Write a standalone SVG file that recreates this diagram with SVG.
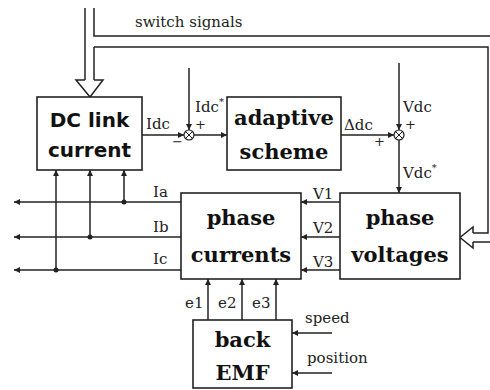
<svg xmlns="http://www.w3.org/2000/svg" width="490" height="390" viewBox="0 0 490 390">
<style>
.box{fill:#fff;stroke:#222;stroke-width:1.6}
.ln{fill:none;stroke:#222;stroke-width:1.5}
.hl{fill:#fff;stroke:#222;stroke-width:1.5}
.bs{font-family:"DejaVu Sans",sans-serif;font-weight:bold;font-size:20px;fill:#111;text-anchor:middle}
.bt{font-family:"DejaVu Serif",serif;font-weight:bold;font-size:21px;fill:#111;text-anchor:middle}
.lb{font-family:"DejaVu Serif",serif;font-size:15px;fill:#222}
.pm{font-family:"DejaVu Serif",serif;font-size:13px;fill:#222}
.dot{fill:#222}
</style>
<defs>
<marker id="a" viewBox="0 0 10 10" refX="10" refY="5" markerWidth="8" markerHeight="6" markerUnits="userSpaceOnUse" orient="auto">
<path d="M0,0 L10,5 L0,10z" fill="#222"/>
</marker>
</defs>
<rect width="490" height="390" fill="#fff"/>
<g id="connectors">
<path class="ln" d="M94,8 V36 H490"/>
<path class="ln" d="M85,8 V80"/>
<path class="ln" d="M94,47 V80"/>
<path class="hl" d="M85,80 H76 L90,97 L103,80 H94"/>
<path class="ln" d="M94,47 H488 V233 H473"/>
<path class="ln" d="M490,242 H473"/>
<path class="hl" d="M473,233 V227 L460,237.5 L473,248 V242"/>
<line class="ln" x1="142" y1="135" x2="184" y2="135" marker-end="url(#a)"/>
<line class="ln" x1="189" y1="68" x2="189" y2="130" marker-end="url(#a)"/>
<line class="ln" x1="194" y1="135" x2="227" y2="135" marker-end="url(#a)"/>
<line class="ln" x1="341" y1="135" x2="394" y2="135" marker-end="url(#a)"/>
<line class="ln" x1="399" y1="63" x2="399" y2="130" marker-end="url(#a)"/>
<line class="ln" x1="399" y1="140" x2="399" y2="193" marker-end="url(#a)"/>
<line class="ln" x1="340" y1="202" x2="301" y2="202" marker-end="url(#a)"/>
<line class="ln" x1="340" y1="237" x2="301" y2="237" marker-end="url(#a)"/>
<line class="ln" x1="340" y1="270" x2="301" y2="270" marker-end="url(#a)"/>
<line class="ln" x1="181" y1="202" x2="14" y2="202" marker-end="url(#a)"/>
<line class="ln" x1="181" y1="237" x2="14" y2="237" marker-end="url(#a)"/>
<line class="ln" x1="181" y1="270" x2="14" y2="270" marker-end="url(#a)"/>
<line class="ln" x1="56" y1="270" x2="56" y2="170" marker-end="url(#a)"/>
<line class="ln" x1="90" y1="237" x2="90" y2="170" marker-end="url(#a)"/>
<line class="ln" x1="124" y1="202" x2="124" y2="170" marker-end="url(#a)"/>
<circle class="dot" cx="56" cy="270" r="2.5"/>
<circle class="dot" cx="90" cy="237" r="2.5"/>
<circle class="dot" cx="124" cy="202" r="2.5"/>
<line class="ln" x1="208" y1="320" x2="208" y2="279" marker-end="url(#a)"/>
<line class="ln" x1="242" y1="320" x2="242" y2="279" marker-end="url(#a)"/>
<line class="ln" x1="276" y1="320" x2="276" y2="279" marker-end="url(#a)"/>
<line class="ln" x1="332" y1="333" x2="292" y2="333" marker-end="url(#a)"/>
<line class="ln" x1="332" y1="373" x2="292" y2="373" marker-end="url(#a)"/>
</g>
<g id="sum1">
<circle cx="189" cy="135" r="5" fill="#fff" stroke="#222" stroke-width="1.2"/>
<path d="M185.5,131.5 L192.5,138.5 M192.5,131.5 L185.5,138.5" stroke="#222" stroke-width="1"/>
</g>
<g id="sum2">
<circle cx="399" cy="135" r="5" fill="#fff" stroke="#222" stroke-width="1.2"/>
<path d="M395.5,131.5 L402.5,138.5 M402.5,131.5 L395.5,138.5" stroke="#222" stroke-width="1"/>
</g>
<g id="dclink">
<rect class="box" x="37" y="97" width="105" height="73"/>
<text class="bs" x="89.5" y="127">DC link</text>
<text class="bs" x="89.5" y="157">current</text>
</g>
<g id="adaptive">
<rect class="box" x="227" y="97" width="114" height="73"/>
<text class="bt" x="284" y="125">adaptive</text>
<text class="bt" x="284" y="159">scheme</text>
</g>
<g id="phasevoltages">
<rect class="box" x="340" y="193" width="120" height="86"/>
<text class="bt" x="400" y="225">phase</text>
<text class="bt" x="400" y="262">voltages</text>
</g>
<g id="phasecurrents">
<rect class="box" x="181" y="193" width="120" height="86"/>
<text class="bt" x="241" y="225">phase</text>
<text class="bt" x="241" y="262">currents</text>
</g>
<g id="backemf">
<rect class="box" x="193" y="320" width="99" height="68"/>
<text class="bt" x="242.5" y="347">back</text>
<text class="bt" x="242.5" y="380">EMF</text>
</g>
<g id="labels">
<text class="lb" x="135" y="27" font-size="16">switch signals</text>
<text class="lb" x="146" y="129">Idc</text>
<text class="pm" x="172" y="146">−</text>
<text class="lb" x="195" y="112">Idc<tspan font-size="10" dx="0" dy="-7">*</tspan></text>
<text class="pm" x="195" y="129">+</text>
<text class="lb" x="344" y="130">Δdc</text>
<text class="pm" x="374" y="146">+</text>
<text class="lb" x="403" y="112">Vdc</text>
<text class="pm" x="405" y="129">+</text>
<text class="lb" x="403" y="178">Vdc<tspan font-size="10" dx="0" dy="-7">*</tspan></text>
<text class="lb" x="313" y="199">V1</text>
<text class="lb" x="313" y="233">V2</text>
<text class="lb" x="313" y="267">V3</text>
<text class="lb" x="153" y="197">Ia</text>
<text class="lb" x="153" y="232">Ib</text>
<text class="lb" x="153" y="264">Ic</text>
<text class="lb" x="185" y="308">e1</text>
<text class="lb" x="218" y="308">e2</text>
<text class="lb" x="252" y="308">e3</text>
<text class="lb" x="305" y="323">speed</text>
<text class="lb" x="307" y="363">position</text>
</g>
</svg>
